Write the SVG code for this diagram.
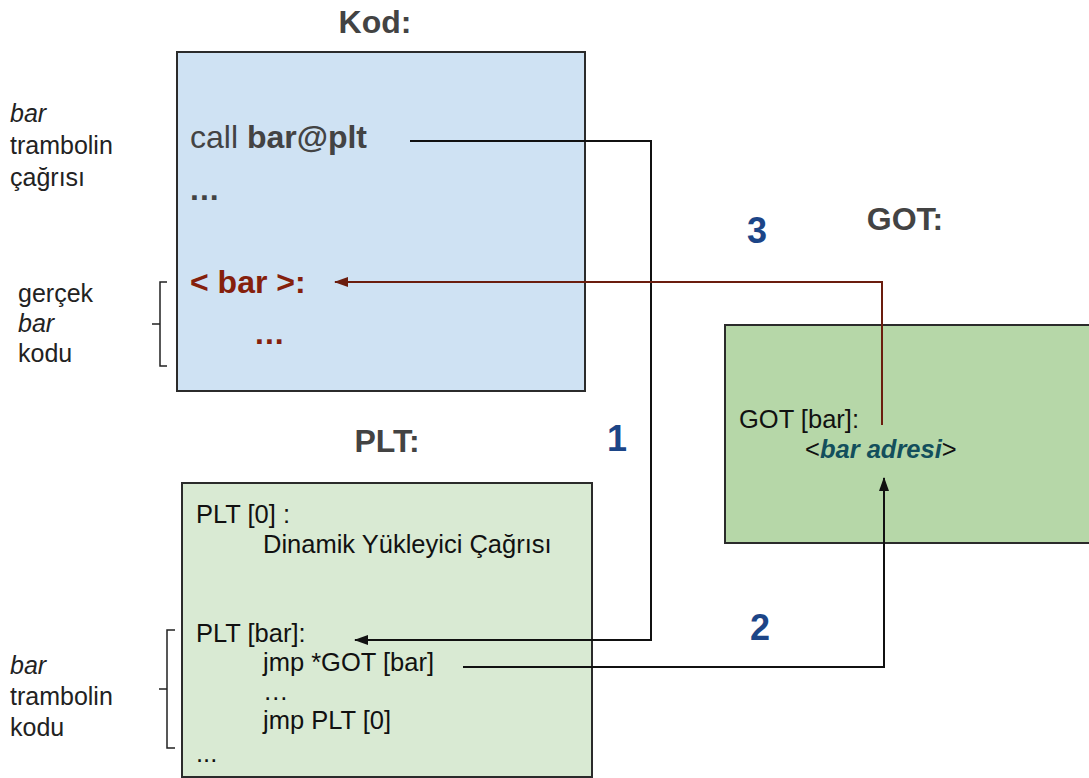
<svg xmlns="http://www.w3.org/2000/svg" width="1089" height="778" viewBox="0 0 1089 778">
  <style>
    text { font-family: "Liberation Sans", Arial, sans-serif; }
    .title { font-size: 32px; font-weight: bold; fill: #434343; text-anchor: middle; }
    .note { font-size: 25px; fill: #222222; }
    .code { font-size: 25.5px; fill: #111111; }
    .big { font-size: 32px; }
    .step { font-size: 36px; font-weight: bold; fill: #1c4587; text-anchor: middle; }
    .box { stroke: #2b2b2b; stroke-width: 2; }
    .wire { fill: none; stroke: #111111; stroke-width: 2; }
    .wire-red { fill: none; stroke: #6b1d0e; stroke-width: 2; }
    .brace { fill: none; stroke: #222222; stroke-width: 1.5; }
  </style>
  <defs>
    <marker id="head" viewBox="0 0 14 10" refX="13" refY="5" markerWidth="14" markerHeight="10" markerUnits="userSpaceOnUse" orient="auto">
      <path d="M0,0 L14,5 L0,10 z" fill="#111111"/>
    </marker>
    <marker id="head-red" viewBox="0 0 14 10" refX="13" refY="5" markerWidth="14" markerHeight="10" markerUnits="userSpaceOnUse" orient="auto">
      <path d="M0,0 L14,5 L0,10 z" fill="#6b1d0e"/>
    </marker>
  </defs>

  <rect width="1089" height="778" fill="#ffffff"/>

  <!-- side notes with braces -->
  <g id="note-call">
    <text class="note" x="10" y="122" font-style="italic">bar</text>
    <text class="note" x="10" y="154">trambolin</text>
    <text class="note" x="10" y="186">çağrısı</text>
  </g>
  <g id="note-real">
    <text class="note" x="18" y="302">gerçek</text>
    <text class="note" x="18" y="332" font-style="italic">bar</text>
    <text class="note" x="18" y="362">kodu</text>
    <path class="brace" d="M167,282 H160 V366 H167 M160,324 H152"/>
  </g>
  <g id="note-plt">
    <text class="note" x="10" y="674" font-style="italic">bar</text>
    <text class="note" x="10" y="705">trambolin</text>
    <text class="note" x="10" y="736">kodu</text>
    <path class="brace" d="M175,630 H167 V748 H175 M167,689 H159"/>
  </g>

  <!-- code section -->
  <g id="kod">
    <text class="title" x="375" y="33">Kod:</text>
    <rect class="box" x="177" y="52" width="408" height="339" fill="#cfe2f3"/>
    <text class="big" x="190" y="148" fill="#434343">call <tspan font-weight="bold">bar@plt</tspan></text>
    <text class="big" x="190" y="200" fill="#434343" font-weight="bold" letter-spacing="1">...</text>
    <text class="big" x="190" y="293" fill="#85200c" font-weight="bold">&lt; bar &gt;:</text>
    <text class="big" x="255" y="344" fill="#85200c" font-weight="bold" letter-spacing="1">...</text>
  </g>

  <!-- PLT section -->
  <g id="plt">
    <text class="title" x="387" y="452">PLT:</text>
    <rect class="box" x="182" y="483" width="410" height="294" fill="#d9ead3"/>
    <text class="code" x="196" y="523">PLT [0] :</text>
    <text class="code" x="263" y="553">Dinamik Yükleyici Çağrısı</text>
    <text class="code" x="196" y="642">PLT [bar]:</text>
    <text class="code" x="263" y="671">jmp *GOT [bar]</text>
    <text class="code" x="263" y="700">…</text>
    <text class="code" x="263" y="729">jmp PLT [0]</text>
    <text class="code" x="196" y="762">...</text>
  </g>

  <!-- GOT section -->
  <g id="got">
    <text class="title" x="905" y="230">GOT:</text>
    <rect class="box" x="725" y="325" width="380" height="218" fill="#b6d7a8"/>
    <text class="code" x="739" y="428">GOT [bar]:</text>
    <text class="code" x="805" y="458">&lt;<tspan font-weight="bold" font-style="italic" fill="#134f5c">bar adresi</tspan>&gt;</text>
  </g>

  <!-- connectors -->
  <g id="connectors">
    <path class="wire" d="M410,141 H651 V640 H355" marker-end="url(#head)"/>
    <path class="wire" d="M463,667 H884 V478" marker-end="url(#head)"/>
    <path class="wire-red" d="M882,425 V282 H335" marker-end="url(#head-red)"/>
  </g>

  <!-- step numbers -->
  <g id="steps">
    <text class="step" x="617" y="451">1</text>
    <text class="step" x="760" y="640">2</text>
    <text class="step" x="757" y="243">3</text>
  </g>
</svg>
